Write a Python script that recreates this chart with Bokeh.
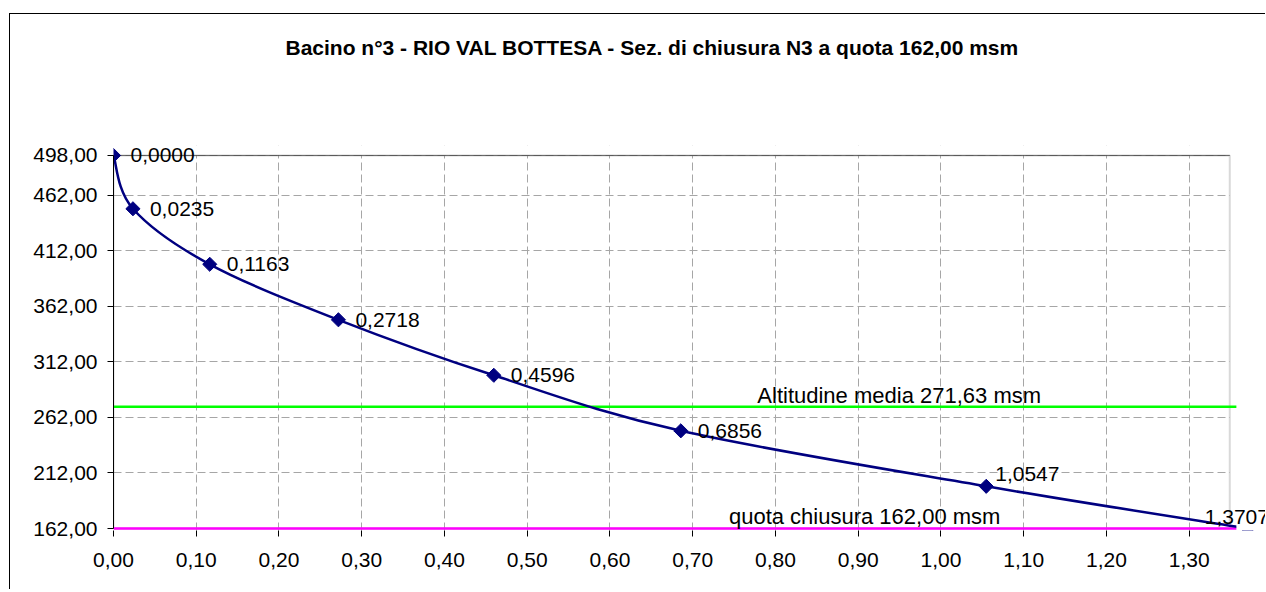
import numpy as np
from bokeh.plotting import figure
from bokeh.models import (ColumnDataSource, FixedTicker, LabelSet, Label, Span,
                          Range1d, CustomJSTickFormatter, BoxAnnotation, Title)
from bokeh.core.properties import value
from bokeh.embed import file_html
from bokeh.resources import INLINE

# ---------------- data ----------------
title_text = "Bacino n°3 - RIO VAL BOTTESA - Sez. di chiusura N3 a quota 162,00 msm"
area = [0.0000, 0.0235, 0.1163, 0.2718, 0.4596, 0.6856, 1.0547, 1.3707]
quota = [498.0, 450.0, 400.0, 350.0, 300.0, 250.0, 200.0, 162.0]
mean_altitude = 271.63
closure_altitude = 162.00
mean_label = "Altitudine media 271,63 msm"
closure_label = "quota chiusura 162,00 msm"
x_ticks = [0.0, 0.1, 0.2, 0.3, 0.4, 0.5, 0.6, 0.7, 0.8, 0.9, 1.0, 1.1, 1.2, 1.3]
y_ticks = [162, 212, 262, 312, 362, 412, 462, 498]

# ---------------- layout / styling ----------------
FONT = "Liberation Sans"
NAVY = "#000080"
plot_x_max = 1.349      # right edge of the Excel plot area
clip_x_max = 1.357      # where series drawing stops
label_dx = [17, 17, 17, 17, 17, 17, 9, -43]
label_dy = [0, 0, 0, 0, 0, 0, 12, 12]

p = figure(width=1256, height=576,
           x_range=Range1d(0, 1.3934), y_range=Range1d(160.2, 507.0),
           output_backend="svg", toolbar_location=None,
           min_border_left=103, min_border_right=0,
           min_border_top=131, min_border_bottom=60)
p.styles = {"margin-top": "13px", "margin-left": "9px",
            "border-left": "1px solid black", "border-top": "1px solid black"}
p.background_fill_color = "white"
p.border_fill_color = "white"
p.outline_line_color = None

p.title.text = title_text
p.title.text_font = FONT
p.title.text_font_size = "21px"
p.title.text_font_style = "bold"
p.title.text_color = "black"
p.title.align = "left"
p.title.offset = 172
p.title.standoff = 36
# empty spacer between title and plot area
p.add_layout(Title(text=" ", text_font=FONT, text_font_size="21px", standoff=44), "above")

fmt = CustomJSTickFormatter(code="return tick.toFixed(2).replace('.', ',');")
for ax in (p.xaxis[0], p.yaxis[0]):
    ax.formatter = fmt
    ax.major_tick_out = 6
    ax.major_tick_in = 0
    ax.minor_tick_line_color = None
    ax.major_tick_line_color = "black"
    ax.axis_line_color = "black"
    ax.major_label_text_font = FONT
    ax.major_label_text_font_size = "21px"
    ax.major_label_text_color = "black"
p.xaxis.ticker = FixedTicker(ticks=x_ticks)
p.yaxis.ticker = FixedTicker(ticks=y_ticks)
p.yaxis.bounds = (y_ticks[0], y_ticks[-1])
p.xaxis.major_label_standoff = 16
p.yaxis.major_label_standoff = 10
p.xaxis.axis_line_color = None

p.xgrid.ticker = FixedTicker(ticks=x_ticks)
p.ygrid.ticker = FixedTicker(ticks=y_ticks)
for g in (p.xgrid[0], p.ygrid[0]):
    g.grid_line_color = "#a6a6a6"
    g.grid_line_dash = "8 4"
    g.grid_line_width = 1
    g.level = "image"

def mask(**kw):
    return BoxAnnotation(fill_color="white", fill_alpha=1.0, line_color=None, **kw)

under = [
    mask(bottom=y_ticks[-1], level="underlay"),                 # above plot area
    mask(left=plot_x_max, level="underlay"),                    # right of plot area
    BoxAnnotation(left=0, right=plot_x_max, bottom=y_ticks[0], top=y_ticks[-1],
                  fill_alpha=0, line_color="#808080", line_width=2, level="underlay"),
    BoxAnnotation(left=0, right=plot_x_max, bottom=y_ticks[-1], top=y_ticks[-1],
                  fill_alpha=0, line_color="black", line_width=1, level="underlay"),
    Span(location=mean_altitude, dimension="width", line_color="#00ff00",
         line_width=2.5, level="underlay"),
    Span(location=closure_altitude, dimension="width", line_color="#ff00ff",
         line_width=2.5, level="underlay"),
]
p.renderers.extend(under)

# smoothed curve (Catmull-Rom as cubic Beziers)
P = np.column_stack([area, quota])
n = len(P)
Pm = np.vstack([P[0], P, P[-1]])
i = np.arange(n - 1)
c0 = P[i] + (Pm[i + 2] - Pm[i]) / 6.0
c1 = P[i + 1] - (Pm[i + 3] - Pm[i + 1]) / 6.0
bez = ColumnDataSource(dict(x0=P[i, 0], y0=P[i, 1], x1=P[i + 1, 0], y1=P[i + 1, 1],
                            cx0=c0[:, 0], cy0=c0[:, 1], cx1=c1[:, 0], cy1=c1[:, 1]))
p.bezier(x0="x0", y0="y0", x1="x1", y1="y1", cx0="cx0", cy0="cy0",
         cx1="cx1", cy1="cy1", source=bez, line_color=NAVY, line_width=2.5)

src = ColumnDataSource(dict(x=area, y=quota,
                            txt=[f"{a:.4f}".replace(".", ",") for a in area],
                            dx=label_dx, dy=label_dy))
p.scatter("x", "y", source=src, marker="square", size=10, angle=np.pi / 4,
          fill_color=NAVY, line_color=NAVY)
p.renderers.append(mask(left=clip_x_max, level="glyph"))

p.add_layout(LabelSet(x="x", y="y", text="txt", source=src, x_offset="dx", y_offset="dy",
                      text_font=value(FONT), text_font_size=value("21px"),
                      text_color="black", text_baseline="middle", text_align="left"))

# series labels
p.add_layout(Label(x=0.9495, y=mean_altitude, y_offset=11, text=mean_label,
                   text_font=FONT, text_font_size="22px", text_color="black",
                   text_align="center", text_baseline="middle"))
p.add_layout(Label(x=0.9078, y=closure_altitude, y_offset=12, text=closure_label,
                   text_font=FONT, text_font_size="22px", text_color="black",
                   text_align="center", text_baseline="middle"))

open("out.html", "w").write(file_html(p, INLINE))
